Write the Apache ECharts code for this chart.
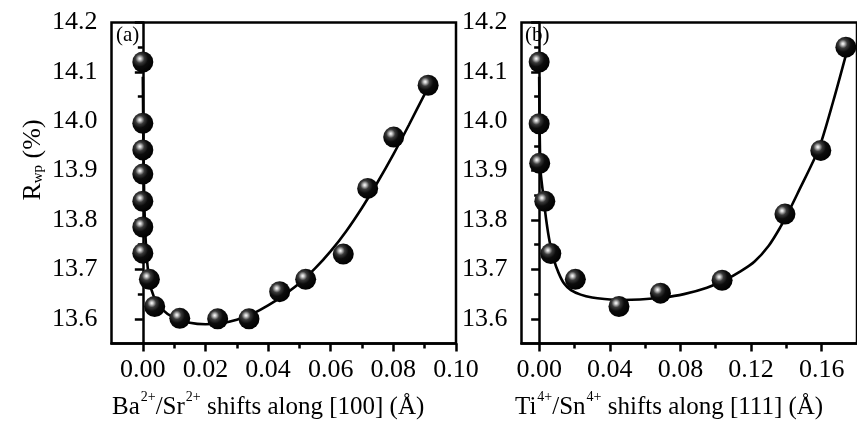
<!DOCTYPE html>
<html>
<head>
<meta charset="utf-8">
<script src="https://cdn.jsdelivr.net/npm/echarts@6/dist/echarts.min.js"></script>
<style>
  html, body { margin: 0; padding: 0; background: #fff; }
  #chart { width: 857px; height: 427px; }
</style>
</head>
<body>
<div id="chart"></div>
<script>
  // panel (a): Ba/Sr shifts along [100]
  var aPointX = [0, 0, 0, 0, 0, 0, 0, 0.0021, 0.0038, 0.0118, 0.0239, 0.0339, 0.0437, 0.0520, 0.0640, 0.0718, 0.0801, 0.0911];
  var aPointY = [14.120, 13.996, 13.942, 13.893, 13.838, 13.786, 13.733, 13.680, 13.625, 13.601, 13.600, 13.600, 13.655, 13.680, 13.731, 13.864, 13.968, 14.073];
  var aFitX = [0, 0.0002, 0.0005, 0.001, 0.002, 0.0035, 0.006, 0.010, 0.015, 0.020, 0.025, 0.030, 0.035, 0.040, 0.045, 0.050, 0.055, 0.060, 0.065, 0.070, 0.075, 0.080, 0.085, 0.090, 0.092];
  var aFitY = [14.09, 13.95, 13.83, 13.75, 13.68, 13.645, 13.620, 13.602, 13.592, 13.589, 13.591, 13.598, 13.610, 13.627, 13.648, 13.672, 13.702, 13.737, 13.778, 13.825, 13.877, 13.933, 13.993, 14.055, 14.078];

  // panel (b): Ti/Sn shifts along [111]
  var bPointX = [0, 0, 0.0003, 0.0032, 0.0066, 0.0205, 0.0452, 0.0687, 0.1036, 0.1392, 0.1595, 0.1737];
  var bPointY = [14.120, 13.995, 13.915, 13.838, 13.732, 13.680, 13.625, 13.652, 13.678, 13.812, 13.941, 14.150];
  var bFitX = [0, 0.0003, 0.0008, 0.002, 0.004, 0.006, 0.0085, 0.011, 0.014, 0.018, 0.0235, 0.030, 0.037, 0.047, 0.057, 0.070, 0.082, 0.095, 0.105, 0.114, 0.122, 0.130, 0.1365, 0.142, 0.148, 0.154, 0.159, 0.1665, 0.1737];
  var bFitY = [14.09, 13.98, 13.90, 13.86, 13.80, 13.755, 13.718, 13.693, 13.672, 13.658, 13.649, 13.643, 13.640, 13.638, 13.639, 13.643, 13.650, 13.663, 13.678, 13.696, 13.716, 13.748, 13.785, 13.822, 13.866, 13.910, 13.950, 14.040, 14.134];

  // tick labels
  var aXTicks = [0, 0.02, 0.04, 0.06, 0.08, 0.10];
  var aXMinor = [0.01, 0.03, 0.05, 0.07, 0.09];
  var bXTicks = [0, 0.04, 0.08, 0.12, 0.16];
  var bXMinor = [0.02, 0.06, 0.10, 0.14];
  var yTicks = [13.6, 13.7, 13.8, 13.9, 14.0, 14.1, 14.2];
  var yMinor = [13.65, 13.75, 13.85, 13.95, 14.05, 14.15];

  function pairs(xs, ys) {
    var out = [];
    for (var i = 0; i < xs.length; i++) out.push([xs[i], ys[i]]);
    return out;
  }

  var FONT = '"Liberation Serif", "DejaVu Serif", serif';

  // black ball with a small white highlight
  var ball = new echarts.graphic.RadialGradient(0.36, 0.34, 0.7, [
    { offset: 0, color: '#ffffff' },
    { offset: 0.1, color: '#c8c8c8' },
    { offset: 0.3, color: '#3a3a3a' },
    { offset: 0.55, color: '#0c0c0c' },
    { offset: 1, color: '#000000' }
  ]);

  function majorX(idx, min, max, ticks, digits) {
    return {
      type: 'value', gridIndex: idx, min: min, max: max,
      splitLine: { show: false },
      axisLine: { lineStyle: { color: '#000', width: 2.5 } },
      axisTick: { customValues: ticks, length: 8, lineStyle: { color: '#000', width: 2.5 } },
      axisLabel: {
        customValues: ticks, margin: 14, color: '#000', fontFamily: FONT, fontSize: 26,
        formatter: function (v) { return Math.abs(v) < 1e-9 ? (0).toFixed(digits) : v.toFixed(digits); }
      }
    };
  }
  function minorX(idx, min, max, ticks) {
    return {
      type: 'value', gridIndex: idx, min: min, max: max, position: 'bottom',
      splitLine: { show: false },
      axisLine: { show: false },
      axisTick: { customValues: ticks, length: 5, lineStyle: { color: '#000', width: 2.5 } },
      axisLabel: { show: false }
    };
  }
  function majorY(idx) {
    return {
      type: 'value', gridIndex: idx, min: 13.55, max: 14.2,
      splitLine: { show: false },
      axisLine: { lineStyle: { color: '#000', width: 2.5 } },
      axisTick: { customValues: yTicks, length: 8, lineStyle: { color: '#000', width: 2.5 } },
      axisLabel: {
        customValues: yTicks, margin: 14, color: '#000', fontFamily: FONT, fontSize: 26,
        formatter: function (v) { return v.toFixed(1); }
      }
    };
  }
  function minorY(idx) {
    return {
      type: 'value', gridIndex: idx, min: 13.55, max: 14.2, position: 'left',
      splitLine: { show: false },
      axisLine: { show: false },
      axisTick: { customValues: yMinor, length: 5, lineStyle: { color: '#000', width: 2.5 } },
      axisLabel: { show: false }
    };
  }

  var richT = {
    m: { fontFamily: FONT, fontSize: 25, color: '#000', lineHeight: 30, verticalAlign: 'bottom' },
    s: { fontFamily: FONT, fontSize: 14, color: '#000', lineHeight: 30, verticalAlign: 'top', padding: [0, 0, 0, 1] }
  };

  var chart = echarts.init(document.getElementById('chart'), null, { renderer: 'canvas' });
  chart.setOption({
    backgroundColor: '#fff',
    animation: false,
    grid: [
      { left: 111.5, top: 22.5, width: 344.5, height: 321, show: true, borderColor: '#000', borderWidth: 2.5 },
      { left: 521.5, top: 22.5, width: 337, height: 321, show: true, borderColor: '#000', borderWidth: 2.5 }
    ],
    xAxis: [
      majorX(0, -0.01, 0.10, aXTicks, 2),
      majorX(1, -0.01, 0.18, bXTicks, 2),
      minorX(0, -0.01, 0.10, aXMinor),
      minorX(1, -0.01, 0.18, bXMinor)
    ],
    yAxis: [majorY(0), majorY(1), minorY(0), minorY(1)],
    series: [
      { type: 'line', xAxisIndex: 0, yAxisIndex: 0, data: pairs(aFitX, aFitY), showSymbol: false,
        smooth: 0.3, lineStyle: { color: '#000', width: 2.6 }, z: 2 },
      { type: 'scatter', xAxisIndex: 0, yAxisIndex: 0, data: pairs(aPointX, aPointY), symbolSize: 21,
        itemStyle: { color: ball, opacity: 1 }, z: 3 },
      { type: 'line', xAxisIndex: 1, yAxisIndex: 1, data: pairs(bFitX, bFitY), showSymbol: false,
        smooth: 0.3, lineStyle: { color: '#000', width: 2.6 }, z: 2 },
      { type: 'scatter', xAxisIndex: 1, yAxisIndex: 1, data: pairs(bPointX, bPointY), symbolSize: 21,
        itemStyle: { color: ball, opacity: 1 }, z: 3 }
    ],
    graphic: [
      { type: 'text', left: 116, top: 25, style: { text: '(a)', font: '21px ' + FONT, fill: '#000' } },
      { type: 'text', left: 525, top: 25, style: { text: '(b)', font: '21px ' + FONT, fill: '#000' } },
      { type: 'text', left: 112, top: 390,
        style: { text: '{m|Ba}{s|2+}{m|/Sr}{s|2+}{m| shifts along [100] (Å)}', rich: richT } },
      { type: 'text', left: 515, top: 390,
        style: { text: '{m|Ti}{s|4+}{m|/Sn}{s|4+}{m| shifts along [111] (Å)}', rich: richT } },
      { type: 'text', x: 31, y: 160, rotation: Math.PI / 2,
        style: {
          text: '{m|R}{b|wp}{m| (%)}', align: 'center', verticalAlign: 'middle',
          rich: {
            m: { fontFamily: FONT, fontSize: 26, color: '#000', lineHeight: 30, verticalAlign: 'bottom' },
            b: { fontFamily: FONT, fontSize: 15, color: '#000', lineHeight: 18, verticalAlign: 'bottom' }
          }
        } }
    ]
  });
</script>
</body>
</html>
